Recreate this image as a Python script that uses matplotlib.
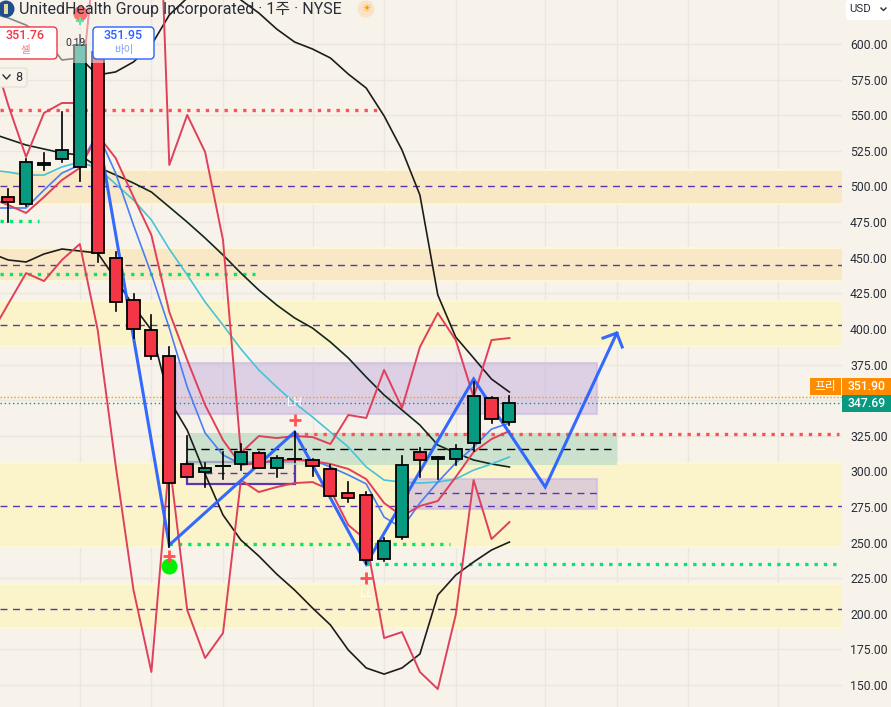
import matplotlib
matplotlib.use("Agg")
import matplotlib.pyplot as plt
from matplotlib.patches import Rectangle, FancyBboxPatch, Circle

plt.rcParams['font.family'] = ['Roboto', 'Noto Sans CJK KR', 'DejaVu Sans']

W, H = 891, 707
BG = '#f7f3eb'

# weekly bars
opens = [492.6, 487.7, 515.1, 519.3, 513.7, 594.4, 449.8, 420.3, 399.2, 381.0, 305.2, 299.5, 303.8, 305.2, 312.9,
         302.4, 308.7, 308.0, 301.7, 284.8, 283.4, 238.5, 253.9, 313.6, 308.7, 308.7, 319.9, 351.5, 334.6]
highs = [498.2, 519.3, 523.5, 552.3, 606.3, 600.0, 454.0, 424.5, 409.8, 387.3, 324.8, 305.9, 313.6, 319.2, 313.6,
         310.8, 327.6, 308.7, 304.5, 292.5, 285.5, 253.2, 310.8, 316.4, 310.1, 318.5, 362.7, 352.2, 352.9]
lows = [475.0, 486.3, 511.5, 517.2, 503.8, 447.0, 412.6, 393.6, 378.9, 246.9, 296.0, 289.0, 294.6, 300.9, 302.4,
        296.0, 306.6, 296.7, 282.7, 278.5, 235.0, 237.1, 252.5, 296.0, 294.6, 304.5, 314.3, 333.9, 332.5]
closes = [489.1, 517.2, 516.5, 525.6, 599.3, 453.3, 418.9, 399.9, 381.0, 291.8, 296.0, 302.4, 303.8, 313.6, 302.4,
          309.4, 308.7, 303.8, 282.7, 281.3, 237.8, 251.1, 304.5, 308.0, 310.1, 315.7, 352.9, 336.8, 347.69]

# indicator lines, one value per bar, the first one is the bar left of the frame
band_upper = [622.0, 618.3, 613.3, 604.9, 588.8, 590.2, 578.3, 580.4, 587.4, 599.3, 620.4, 632.3, 641.4, 644.9, 630.9,
              621.8, 610.5, 601.4, 596.5, 590.2, 578.9, 569.1, 549.5, 525.6, 494.0, 423.8, 394.3, 379.6, 364.8, 355.7]
band_mid = [537.5, 533.3, 529.1, 526.3, 523.5, 522.1, 513.7, 508.1, 502.4, 496.1, 485.6, 475.0, 463.8, 451.9, 439.2,
            427.3, 416.8, 407.7, 400.6, 390.8, 379.6, 366.2, 353.6, 343.1, 332.5, 318.5, 312.9, 308.0, 305.2, 303.1]
band_lower = [453.3, 448.4, 447.0, 452.6, 456.1, 454.7, 453.3, 435.0, 416.1, 399.2, 350.1, 329.0, 298.1, 269.4, 251.8,
              240.6, 227.9, 216.7, 204.1, 192.2, 174.6, 162.0, 157.7, 162.0, 171.8, 213.2, 227.2, 236.4, 244.8, 250.4]
red_upper = [599.0, 557.2, 520.7, 551.6, 558.6, 558.6, 683.5, 771.3, 841.5, 862.6, 515.1, 550.2, 524.2, 462.4, 312.9,
             324.8, 323.4, 324.8, 324.1, 319.2, 339.6, 337.5, 371.2, 344.5, 387.3, 411.2, 392.2, 352.2, 392.2, 393.6]
red_lower = [395.7, 417.5, 439.2, 433.6, 448.4, 459.6, 399.2, 304.5, 216.7, 159.2, 308.0, 202.7, 169.0, 186.5, 293.9,
             285.5, 289.0, 291.8, 292.5, 286.9, 262.3, 251.8, 183.0, 187.2, 159.2, 147.2, 199.2, 293.9, 252.5, 264.4]
red_ma = [491.9, 487.0, 481.4, 492.6, 504.5, 513.0, 536.1, 520.0, 492.6, 465.9, 411.9, 378.2, 346.6, 322.0, 304.5,
          305.9, 308.0, 308.0, 307.3, 305.2, 301.7, 294.6, 277.8, 268.7, 275.7, 279.2, 296.0, 313.6, 322.7, 328.3]
blue_ma = [484.9, 484.9, 484.9, 497.5, 509.4, 515.1, 537.5, 509.4, 472.9, 438.5, 400.6, 359.2, 326.9, 311.5, 305.2,
           305.9, 307.3, 308.0, 308.0, 303.1, 297.5, 291.2, 267.9, 260.2, 277.8, 292.5, 305.9, 317.1, 329.7, 333.9]
teal_ma = [511.6, 510.1, 508.0, 508.0, 513.7, 517.2, 513.0, 501.7, 490.5, 476.5, 456.1, 437.9, 418.9, 402.7, 385.9,
           371.2, 359.2, 348.0, 338.2, 327.6, 317.1, 303.1, 293.9, 292.5, 291.8, 292.5, 294.6, 300.9, 305.2, 310.1]

# hand drawn wave
zig_bars = [5, 9, 16, 20, 26, 30, 34]
zig_prices = [539.6, 248.3, 327.6, 235.0, 364.8, 289.0, 397.1]

# full width supply/demand bands (low, high, colour)
band_lows = [488.0, 433.5, 388.0, 247.0, 190.0]
band_highs = [511.5, 457.0, 419.5, 306.0, 221.0]
band_colors = ['#f8e8c6', '#f8e8c6', '#fbf3c9', '#fbf3c9', '#fbf3c9']

price_ticks = list(range(150, 625, 25))
grid_bars = [4, 8, 12, 17, 21, 25, 30, 34, 38, 43]


fig = plt.figure(figsize=(W / 100, H / 100), dpi=100, facecolor=BG)
ax = fig.add_axes([0, 0, 842 / W, 1], facecolor=BG)
ax.set_xlim(-0.458, 46.58)
ax.set_ylim(134.6, 630.9)
for s in ax.spines.values():
    s.set_visible(False)

# 350 sits under the live price tags
ax.set_yticks(price_ticks)
ax.set_yticklabels(['' if p == 350 else '%.2f' % p for p in price_ticks], fontsize=8.8, color='#2a2e39')
ax.yaxis.tick_right()
ax.tick_params(axis='y', length=0, pad=5.8)
ax.tick_params(axis='x', length=0, labelbottom=False)
ax.set_xticks(grid_bars)
ax.grid(True, color='#ebe7df', lw=1)
ax.set_axisbelow(True)

# zones
for lo, hi, c in zip(band_lows, band_highs, band_colors):
    ax.axhspan(lo, hi, color=c, lw=0, zorder=1)
    ax.axhline(hi, color='#fef9d8', lw=1.2, zorder=1)
    ax.axhline(lo, color='#fef9d8', lw=1.2, zorder=1)

ax.add_patch(Rectangle((9.4, 340.5), 23.5, 35.5, fc='#cdb9e0', ec='#c9b8e2', lw=1.5, alpha=0.62, zorder=2))
ax.add_patch(Rectangle((10, 291), 6, 15.5, fc='#efe7d2', ec='#5e35b1', lw=1.6, zorder=2))
ax.add_patch(Rectangle((10, 304.5), 24, 22.5, fc='#bcdcc2', ec='none', alpha=0.7, zorder=2))
ax.add_patch(Rectangle((22, 273.5), 10.9, 21.5, fc='#cdb9e0', ec='#c9b8e2', lw=1.5, alpha=0.62, zorder=2))

# dashed levels
for p in [500.0, 445.2, 403.0, 276.0, 203.5]:
    ax.plot([-0.458, 46.58], [p, p], color='#5e35b1', lw=1, dashes=(5, 4), zorder=3)
ax.plot([10, 33.7], [315.7, 315.7], color='black', lw=1, dashes=(6, 4), zorder=3)
ax.plot([11, 16], [298.9, 298.9], color='#5e35b1', lw=1, dashes=(5, 4), zorder=3)
ax.plot([22, 32.9], [284.8, 284.8], color='#5e35b1', lw=1, dashes=(5, 4), zorder=3)

# dotted levels
dot = dict(lw=2.4, dashes=(1, 1.8), zorder=3)
ax.plot([-0.458, 20.7], [554.0, 554.0], color='#ff5252', **dot)
ax.plot([-0.458, 1.7], [475.8, 475.8], color='#00e676', **dot)
ax.plot([-0.458, 13.8], [438.5, 438.5], color='#00e676', **dot)
ax.plot([16, 46.4], [326.5, 326.5], color='#ff5252', **dot)
ax.plot([9, 24.7], [249.0, 249.0], color='#00e676', **dot)
ax.plot([20, 46.5], [235.0, 235.0], color='#00e676', **dot)
ax.plot([-0.458, 46.58], [351.9, 351.9], color='#ff9800', lw=1, ls=(0, (1, 1.5)), zorder=3)
ax.plot([-0.458, 46.58], [347.69, 347.69], color='#089981', lw=1, ls=(0, (1, 2)), zorder=3)

# indicators
line_bars = list(range(-1, len(closes)))
ax.plot(line_bars, band_upper, color='#1c1c1c', lw=1.2, zorder=4)
ax.plot(line_bars, band_mid, color='#12261e', lw=1.2, zorder=4)
ax.plot(line_bars, band_lower, color='#1c1c1c', lw=1.2, zorder=4)
ax.plot(line_bars, teal_ma, color='#45c4d6', lw=1.2, zorder=4)
ax.plot(line_bars, blue_ma, color='#4a7ef5', lw=1.2, zorder=4)
ax.plot(line_bars, red_ma, color='#e0405a', lw=1.4, zorder=4)
ax.plot(line_bars, red_upper, color='#e0405a', lw=1.4, zorder=4)
ax.plot(line_bars, red_lower, color='#e0405a', lw=1.4, zorder=4)

# wave with arrow head
ax.plot(zig_bars, zig_prices, color='#2962ff', lw=2.2, alpha=0.95, zorder=5, solid_joinstyle='miter')
ax.plot([33.23, zig_bars[-1], 34.3], [393.6, zig_prices[-1], 387.3], color='#2962ff', lw=2.2, alpha=0.95, zorder=5)

# candles
for i in range(len(closes)):
    o, h, l, c = opens[i], highs[i], lows[i], closes[i]
    col = '#089981' if c > o else '#f23645'
    ax.plot([i, i], [l, h], color='black', lw=1.2, zorder=6)
    if abs(c - o) < 0.1:
        ax.plot([i - 0.38, i + 0.38], [c, c], color='black', lw=1.4, zorder=7)
    else:
        ax.add_patch(Rectangle((i - 0.34, min(o, c)), 0.68, abs(c - o), fc=col, ec='black', lw=1.3, zorder=7))

# signals
ax.scatter([9], [233.6], s=133, color='#00f000', zorder=8, linewidths=0)
ax.scatter([9, 16, 20], [240.6, 336.0, 225.1], marker='+', s=70, color='#ff5252', linewidths=2, zorder=8)
ax.text(16, 348.7, 'LH', color='white', fontsize=8.5, ha='center', va='center', zorder=8)
ax.text(20, 214.6, 'LL', color='white', fontsize=8.5, ha='center', va='center', zorder=8)

# header sits over the plot
ax.add_patch(Rectangle((-0.458, 587), 5.9, 50, fc=BG, ec='none', alpha=0.5, zorder=9))
ax.scatter([4], [621.5], s=110, color='#ff5252', alpha=0.8, zorder=10, linewidths=0)
ax.scatter([4], [616], marker='+', s=40, color='#66e0a0', linewidths=1.5, zorder=10)

over = fig.add_axes([0, 0, 1, 1], facecolor='none')
over.set_xlim(0, W)
over.set_ylim(H, 0)
over.axis('off')

over.add_patch(Circle((6, 9), 8.5, fc='#1f4e8c', ec='none'))
over.add_patch(Rectangle((4, 4), 4, 10, fc='#e8d9a0', ec='none'))
over.text(19, 9.5, 'UnitedHealth Group Incorporated · 1주 · NYSE', fontsize=11.55, color='#2a2e39', va='center')
over.add_patch(Circle((366, 9), 8.5, fc='#fbe3c8', ec='none'))
over.text(366, 9.5, '☀', fontsize=8, color='#ff9800', ha='center', va='center', family='DejaVu Sans')


def price_box(x0, x1, ec, top, bottom, top_col, bottom_col):
    over.add_patch(FancyBboxPatch((x0, 27), x1 - x0, 32, boxstyle='round,pad=0,rounding_size=4',
                                  fc='white', ec=ec, lw=1))
    over.text((x0 + x1) / 2, 35.5, top, color=top_col, fontsize=9, weight='medium', ha='center', va='center')
    over.text((x0 + x1) / 2, 49.5, bottom, color=bottom_col, fontsize=7.5, ha='center', va='center')


price_box(-6, 57, '#f23645', '351.76', '셀', '#f23645', '#f77c80')
price_box(93, 154, '#2962ff', '351.95', '바이', '#2962ff', '#7c9ffb')
over.text(75, 43, '0.19', color='#2a2e39', fontsize=7.5, ha='center', va='center')

over.add_patch(FancyBboxPatch((-6, 68), 33, 19, boxstyle='round,pad=0,rounding_size=3', fc=BG, ec='#e6e2da', lw=1))
over.plot([3, 6.5, 10], [75, 79, 75], color='#2a2e39', lw=1)
over.text(19, 77.5, '8', color='#2a2e39', fontsize=9, ha='center', va='center')

# price tags
over.add_patch(Rectangle((810, 378), 31, 17, fc='#ff8c00', ec='none'))
over.text(825.5, 386.5, '프리', color='white', fontsize=8.5, ha='center', va='center')
over.add_patch(Rectangle((842, 378), 49, 17, fc='#ff8c00', ec='none'))
over.text(866.5, 386.5, '351.90', color='white', fontsize=8.8, weight='medium', ha='center', va='center')
over.add_patch(Rectangle((842, 395), 49, 17, fc='#089981', ec='none'))
over.text(866.5, 403.5, '347.69', color='white', fontsize=8.8, weight='medium', ha='center', va='center')

over.add_patch(FancyBboxPatch((846, 0), 45, 20, boxstyle='round,pad=0,rounding_size=3', fc='white', ec='none'))
over.text(849, 9, 'USD', color='#2a2e39', fontsize=8.2, va='center')
over.plot([881, 883.5, 886], [8, 10.5, 8], color='#2a2e39', lw=1)

fig.savefig('out.png', dpi=100, facecolor=BG)
